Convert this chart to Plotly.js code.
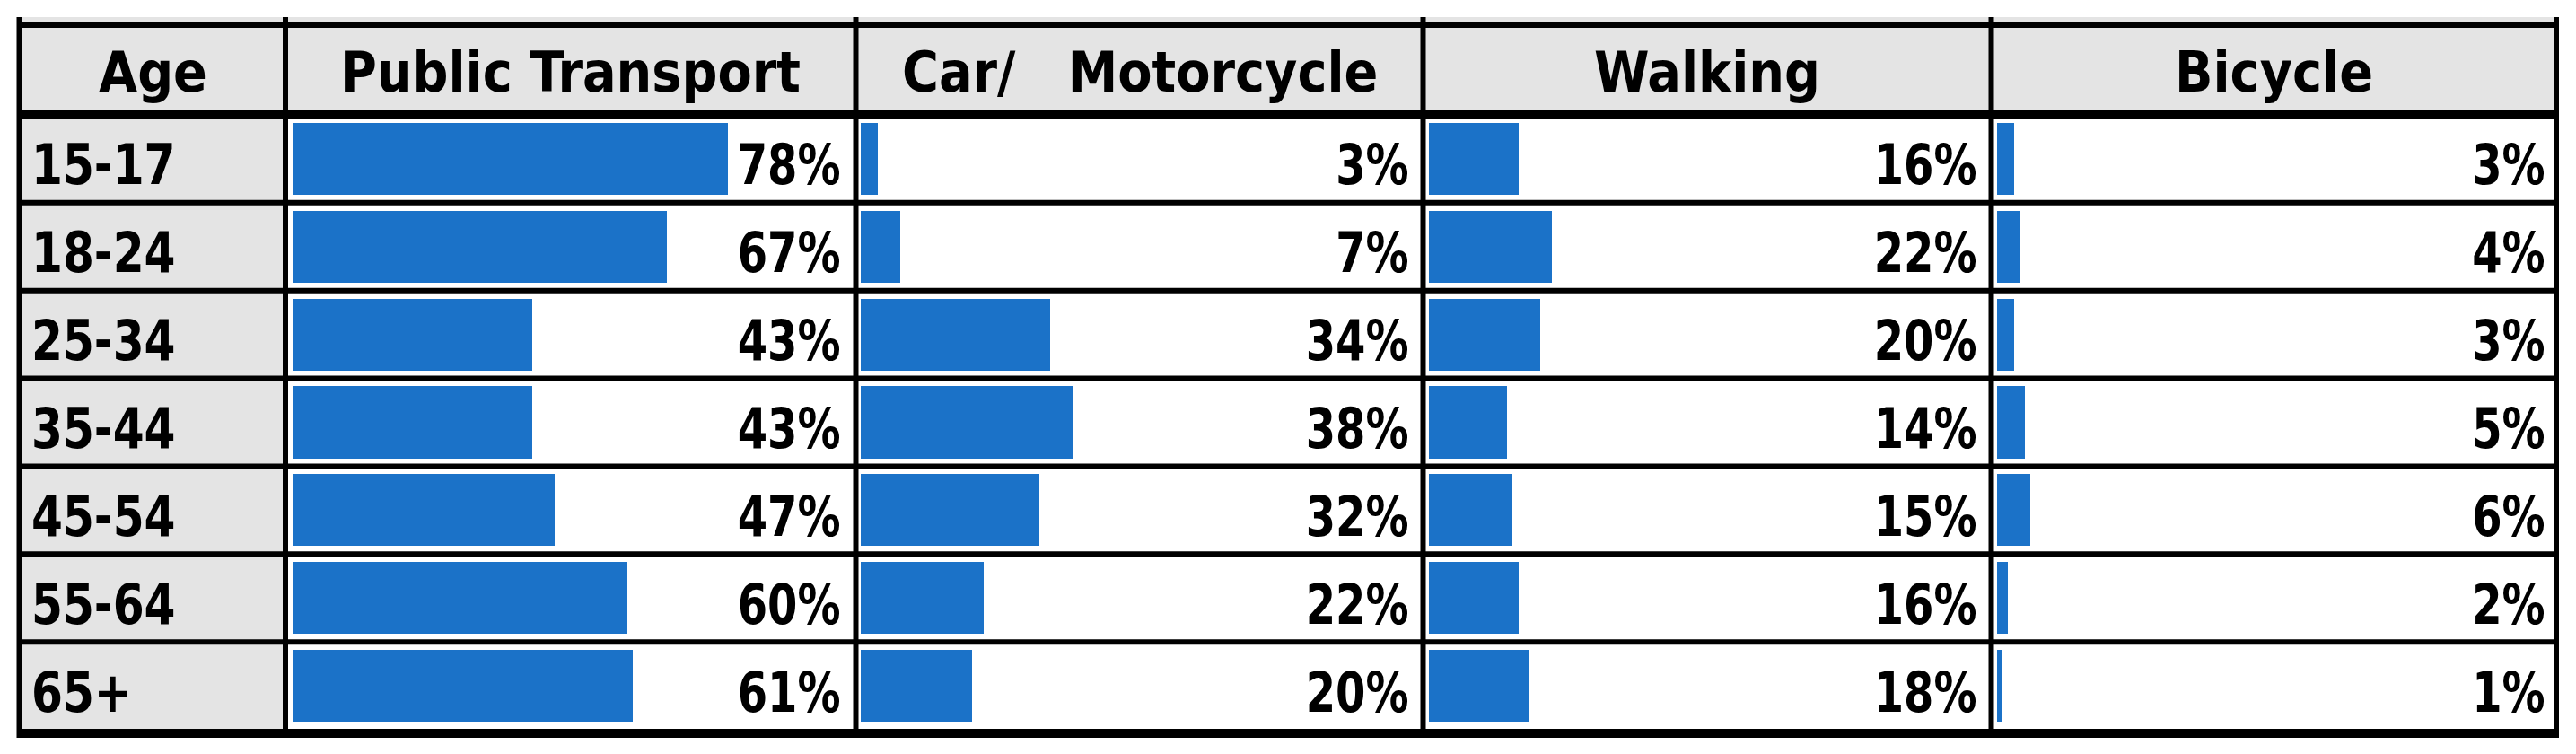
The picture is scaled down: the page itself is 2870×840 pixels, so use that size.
<!DOCTYPE html>
<html>
<head>
<meta charset="utf-8">
<script src="https://cdn.plot.ly/plotly-3.0.1.min.js"></script>
<style>html,body{margin:0;padding:0;background:#fff;}#chart{width:2870px;height:840px;}</style>
</head>
<body>
<div id="chart"></div>
<script>
// ---- data ----
const headers = ['Age', 'Public Transport', 'Car/\u00a0\u00a0\u00a0Motorcycle', 'Walking', 'Bicycle'];
const ages = ['15-17', '18-24', '25-34', '35-44', '45-54', '55-64', '65+'];
const publicTransport = [78, 67, 43, 43, 47, 60, 61];
const carMotorcycle = [3, 7, 34, 38, 32, 22, 20];
const walking = [16, 22, 20, 14, 15, 16, 18];
const bicycle = [3, 4, 3, 5, 6, 2, 1];

// ---- geometry ----
const W = 2870, H = 840;
const fx = p => p / W;
const fy = p => 1 - p / H;
const FONT = {family: 'Liberation Sans Narrow, Arial Narrow, DejaVu Sans Condensed, sans-serif', size: 62, color: '#000', weight: 'bold'};
const BLUE = '#1b72c8';
const GREY = '#e4e4e4';

const series = [publicTransport, carMotorcycle, walking, bicycle];
const domainsPx = [[326, 948], [959, 1581], [1592, 2214], [2225, 2847]];
const colBorders = [21.5, 318, 953.5, 1585.5, 2218.5, 2848];
const colCenters = [170, 635.5, 1269.5, 1902, 2533];

const traces = series.map((vals, i) => ({
  type: 'bar', orientation: 'h',
  x: vals, y: ages,
  xaxis: i === 0 ? 'x' : 'x' + (i + 1), yaxis: 'y',
  width: 0.82,
  marker: {color: BLUE, line: {width: 0}},
  hoverinfo: 'skip', showlegend: false
}));

const layout = {
  width: W, height: H,
  margin: {l: 0, r: 0, t: 0, b: 0, pad: 0},
  paper_bgcolor: '#fff', plot_bgcolor: 'rgba(0,0,0,0)',
  showlegend: false,
  bargap: 0,
  yaxis: {domain: [fy(813), fy(128)], type: 'category', categoryorder: 'array', categoryarray: ages,
          range: [6.5, -0.5], visible: false, fixedrange: true},
  annotations: [], shapes: []
};
domainsPx.forEach((d, i) => {
  const key = i === 0 ? 'xaxis' : 'xaxis' + (i + 1);
  layout[key] = {domain: [fx(d[0]), fx(d[1])], range: [0, 100], visible: false, fixedrange: true, anchor: 'y'};
});

// backgrounds
layout.shapes.push({type: 'rect', layer: 'below', xref: 'paper', yref: 'paper',
  x0: fx(19), x1: fx(2851), y0: fy(19), y1: fy(128), fillcolor: GREY, line: {width: 0}});
layout.shapes.push({type: 'rect', layer: 'below', xref: 'paper', yref: 'paper',
  x0: fx(19), x1: fx(318), y0: fy(128), y1: fy(817), fillcolor: GREY, line: {width: 0}});

// horizontal rules
const hline = (py, w) => ({type: 'line', layer: 'above', xref: 'paper', yref: 'paper',
  x0: fx(19), x1: fx(2851), y0: fy(py), y1: fy(py), line: {color: '#000', width: w}});
layout.shapes.push(hline(27.5, 7));
layout.shapes.push(hline(128, 10));
layout.shapes.push(hline(817, 10));
for (let i = 0; i < ages.length - 1; i++) {
  layout.shapes.push({type: 'line', layer: 'above', xref: 'paper', yref: 'y',
    x0: fx(19), x1: fx(2851), y0: i + 0.5, y1: i + 0.5, line: {color: '#000', width: 6}});
}
// vertical rules
colBorders.forEach(px => layout.shapes.push({type: 'line', layer: 'above', xref: 'paper', yref: 'paper',
  x0: fx(px), x1: fx(px), y0: fy(19), y1: fy(822), line: {color: '#000', width: 6}}));

// header text
headers.forEach((h, i) => layout.annotations.push({xref: 'paper', yref: 'paper',
  x: fx(colCenters[i]), y: fy(80), xanchor: 'center', yanchor: 'middle',
  text: h, showarrow: false, font: FONT}));

// age labels
ages.forEach(a => layout.annotations.push({xref: 'paper', yref: 'y', x: fx(33), y: a,
  xanchor: 'left', yanchor: 'middle', yshift: -7, text: a, showarrow: false, font: FONT}));

// value labels
series.forEach((vals, i) => {
  const xr = i === 0 ? 'x' : 'x' + (i + 1);
  vals.forEach((v, j) => layout.annotations.push({xref: xr, yref: 'y', x: 100, y: ages[j],
    xanchor: 'right', yanchor: 'middle', xshift: -9, yshift: -7,
    text: v + '%', showarrow: false, font: FONT}));
});

Plotly.newPlot('chart', traces, layout, {staticPlot: true, displayModeBar: false}).then(gd => {
  // narrow the glyphs to mimic the condensed original typeface
  gd.querySelectorAll('.annotation-text').forEach(t => {
    const s = t.textContent;
    if (/%$/.test(s)) {
      t.style.transformBox = 'fill-box';
      t.style.transformOrigin = 'right center';
      t.style.transform = 'scaleX(0.86)';
    } else if (ages.indexOf(s) >= 0) {
      t.style.transformBox = 'fill-box';
      t.style.transformOrigin = 'left center';
      t.style.transform = 'scaleX(0.9)';
    }
  });
});
</script>
</body>
</html>
